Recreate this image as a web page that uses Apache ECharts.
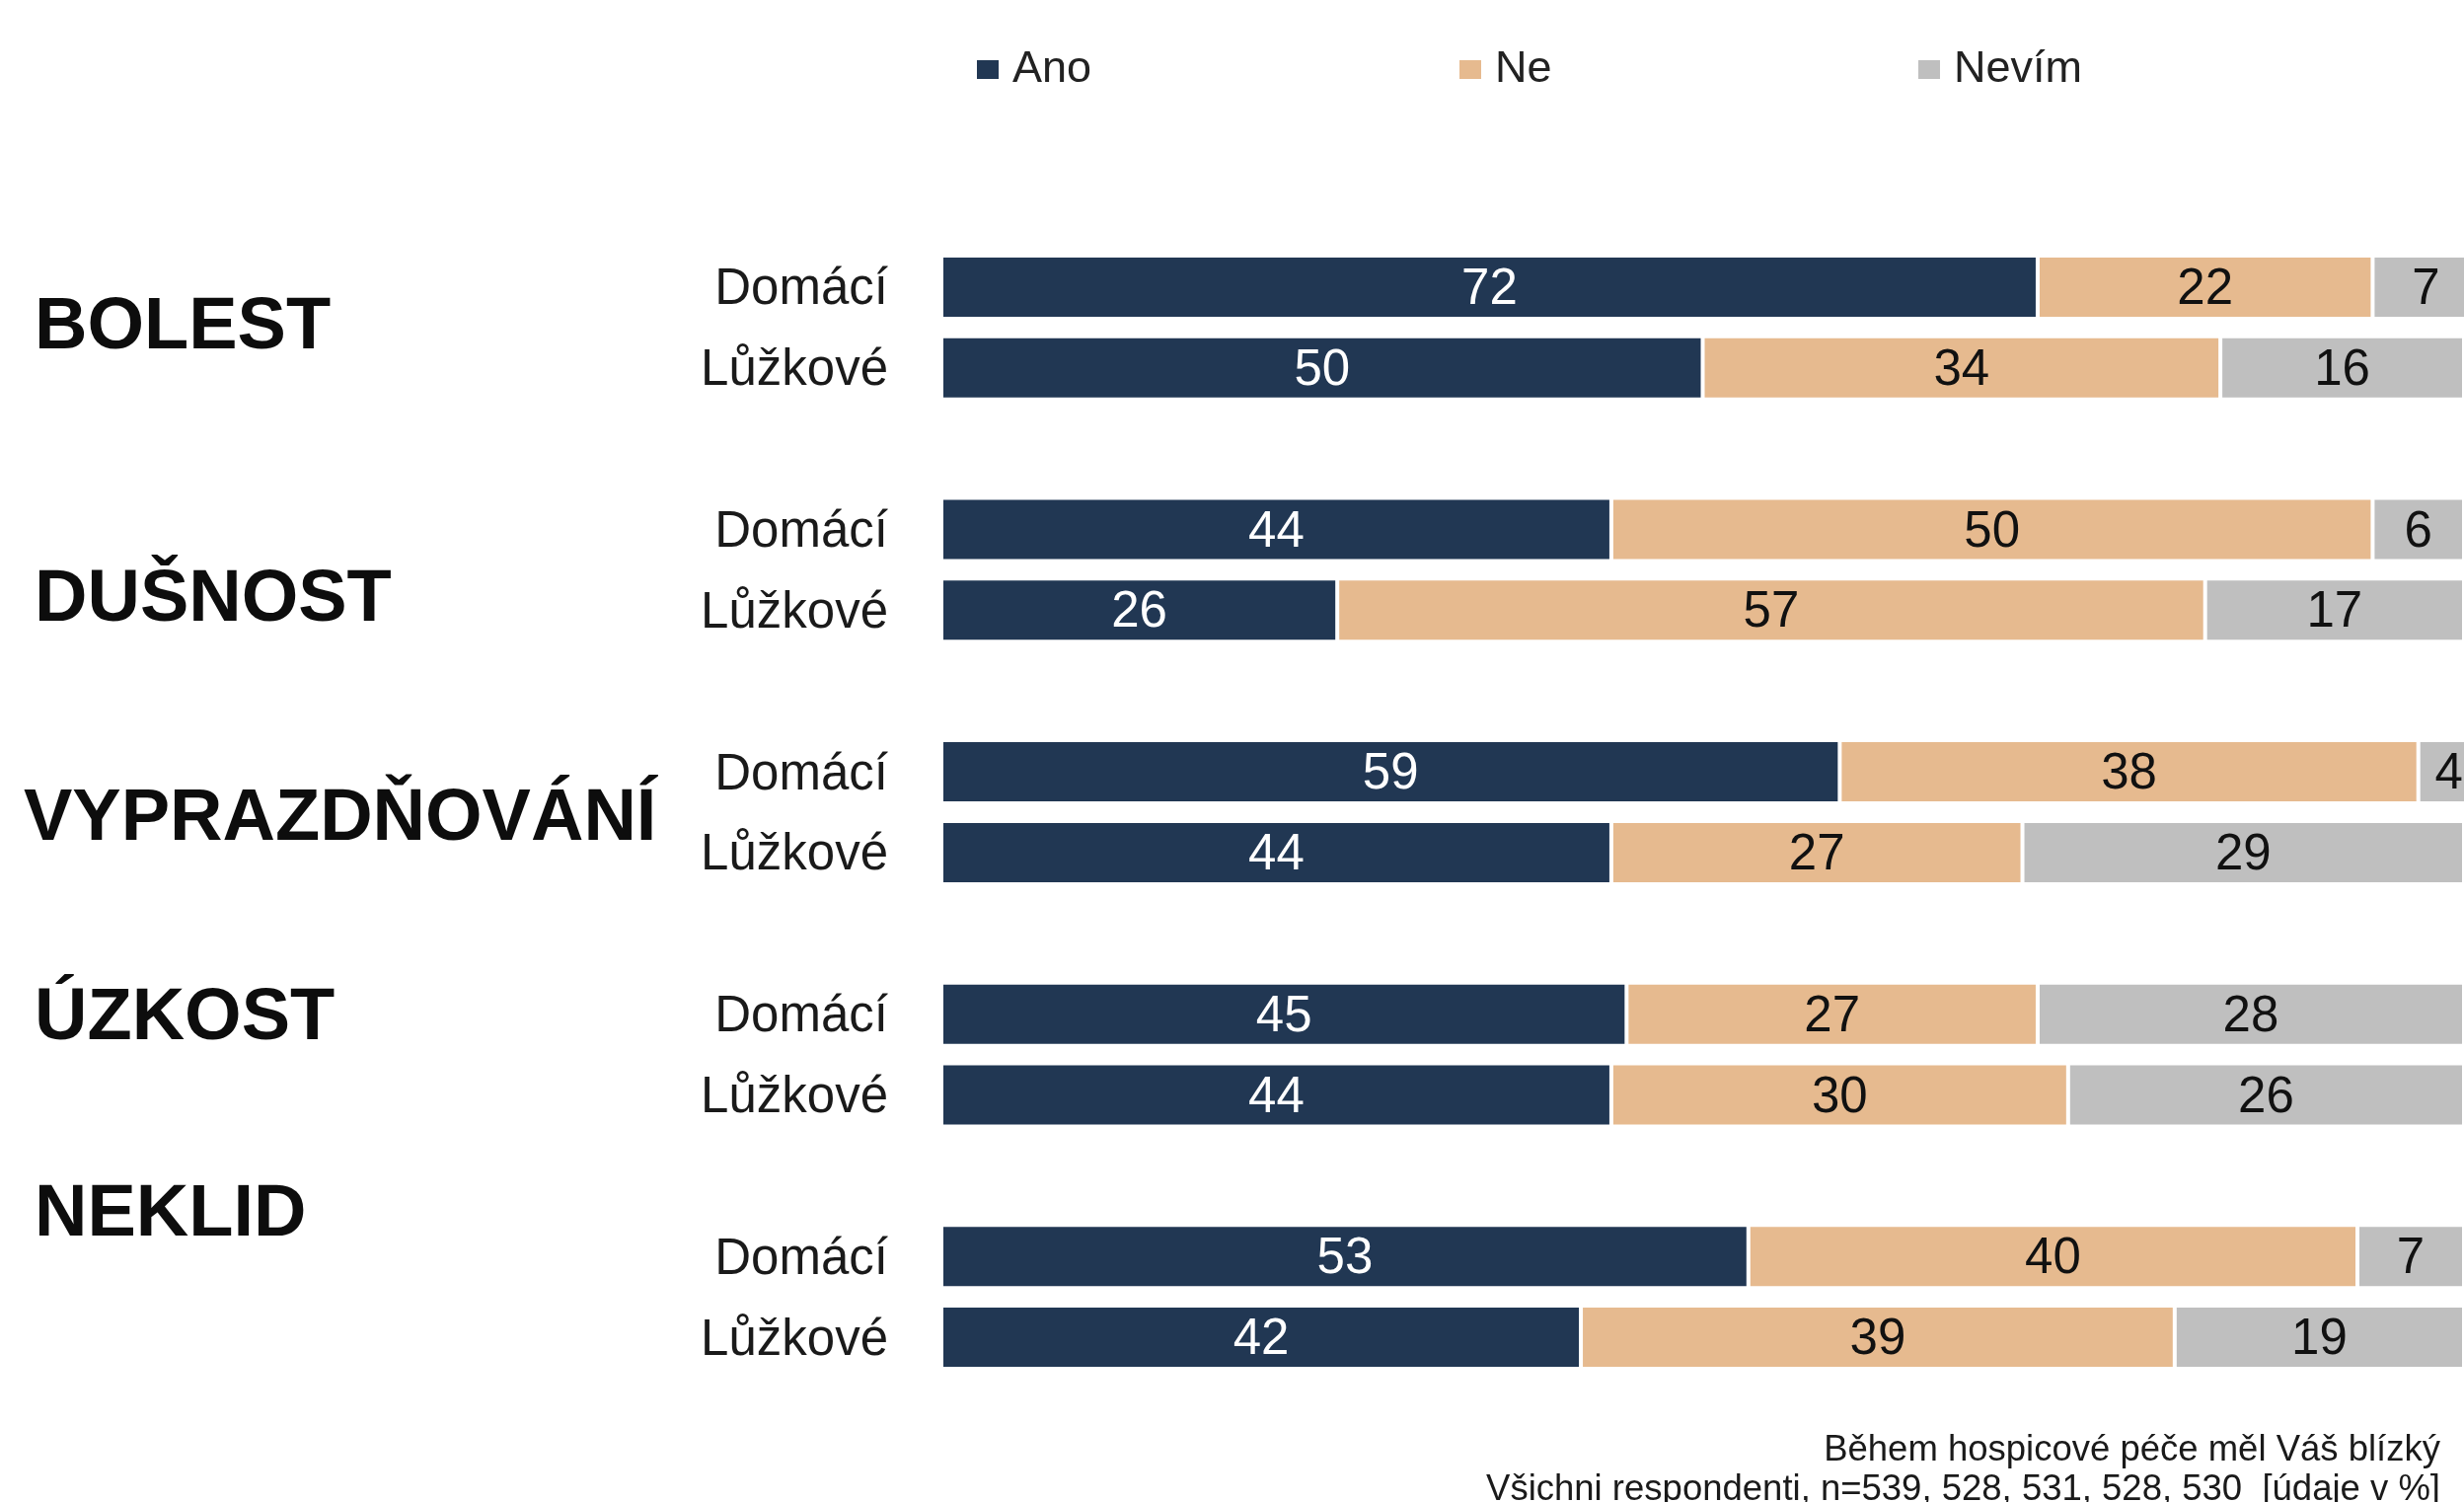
<!DOCTYPE html>
<html>
<head>
<meta charset="utf-8">
<script src="https://cdn.jsdelivr.net/npm/echarts@6/dist/echarts.min.js"></script>
<style>
html,body{margin:0;padding:0;background:#fff;}
#chart{width:2497px;height:1522px;}
</style>
</head>
<body>
<div id="chart"></div>
<script>
// ---- data ----
const groups = ['BOLEST', 'DUŠNOST', 'VYPRAZDŇOVÁNÍ', 'ÚZKOST', 'NEKLID'];
const careTypes = ['Domácí', 'Lůžkové'];
const seriesNames = ['Ano', 'Ne', 'Nevím'];
// order: group1 Domácí, group1 Lůžkové, group2 Domácí, ...
const ano   = [72, 50, 44, 26, 59, 44, 45, 44, 53, 42];
const ne    = [22, 34, 50, 57, 38, 27, 27, 30, 40, 39];
const nevim = [7, 16, 6, 17, 4, 29, 28, 26, 7, 19];
const footnote1 = 'Během hospicové péče měl Váš blízký';
const footnote2 = 'Všichni respondenti, n=539, 528, 531, 528, 530  [údaje v %]';

// ---- build categories with empty gap slots between groups ----
const categories = [];
const idxMap = []; // category index -> data index or -1
let k = 0;
groups.forEach((g, gi) => {
  careTypes.forEach(t => { categories.push(g + '|' + t); idxMap.push(k++); });
  if (gi < groups.length - 1) { categories.push('gap' + gi); idxMap.push(-1); }
});
function expand(arr) { return idxMap.map(i => (i < 0 ? null : arr[i])); }

const colors = ['#213753', '#E6BA8F', '#BFBFBF'];
const labelColors = ['#ffffff', '#111111', '#111111'];
const values = [ano, ne, nevim];

const chart = echarts.init(document.getElementById('chart'));

// layout of the group labels (x = left edge, y = vertical centre)
const groupLabelPos = [
  {x: 35, y: 333},
  {x: 35, y: 609},
  {x: 24, y: 831},
  {x: 35, y: 1033},
  {x: 35, y: 1232}
];
// legend item left positions
const legendLeft = [983, 1472, 1937];

const option = {
  backgroundColor: '#ffffff',
  animation: false,
  legend: seriesNames.map((n, i) => ({
    data: [n],
    left: legendLeft[i],
    top: 43,
    icon: 'rect',
    itemWidth: 24,
    itemHeight: 21,
    textStyle: {fontSize: 45, color: '#222', fontFamily: 'Liberation Sans', padding: [0, 0, 0, 8]}
  })),
  grid: {left: 954, right: -2, top: 250, bottom: 126, containLabel: false},
  xAxis: {
    type: 'value', min: 0, max: 100, show: false
  },
  yAxis: {
    type: 'category',
    data: categories,
    inverse: true,
    axisLine: {show: false},
    axisTick: {show: false},
    axisLabel: {
      margin: 54,
      fontSize: 51,
      color: '#1a1a1a',
      fontFamily: 'Liberation Sans',
      formatter: v => (v.indexOf('|') >= 0 ? '{t|' + v.split('|')[1] + '}' : ''),
      rich: {
        t: {fontSize: 51, fontFamily: 'Liberation Sans', color: '#1a1a1a', padding: [7, 0, 0, 0]}
      }
    }
  },
  series: seriesNames.map((name, si) => ({
    name: name,
    type: 'bar',
    stack: 'total',
    clip: false,
    barWidth: 64,
    data: expand(values[si]),
    itemStyle: {color: colors[si], borderColor: '#ffffff', borderWidth: 2},
    label: {
      show: true,
      position: 'inside',
      offset: [0, 3],
      fontSize: 51,
      fontFamily: 'Liberation Sans',
      color: labelColors[si],
      formatter: p => (p.value == null ? '' : String(p.value))
    }
  })),
  graphic: [
    ...groups.map((g, i) => ({
      type: 'text',
      x: groupLabelPos[i].x,
      y: groupLabelPos[i].y,
      style: {
        text: g,
        fontSize: 74,
        fontWeight: 'bold',
        fontFamily: 'Liberation Sans',
        fill: '#0d0d0d',
        align: 'left',
        verticalAlign: 'middle'
      }
    })),
    {
      type: 'text',
      x: 2473,
      y: 1470,
      style: {text: footnote1, fontSize: 36.5, fontFamily: 'Liberation Sans', fill: '#1a1a1a', align: 'right', verticalAlign: 'middle'}
    },
    {
      type: 'text',
      x: 2473,
      y: 1510,
      style: {text: footnote2, fontSize: 36.5, fontFamily: 'Liberation Sans', fill: '#1a1a1a', align: 'right', verticalAlign: 'middle'}
    }
  ]
};
chart.setOption(option);
</script>
</body>
</html>
